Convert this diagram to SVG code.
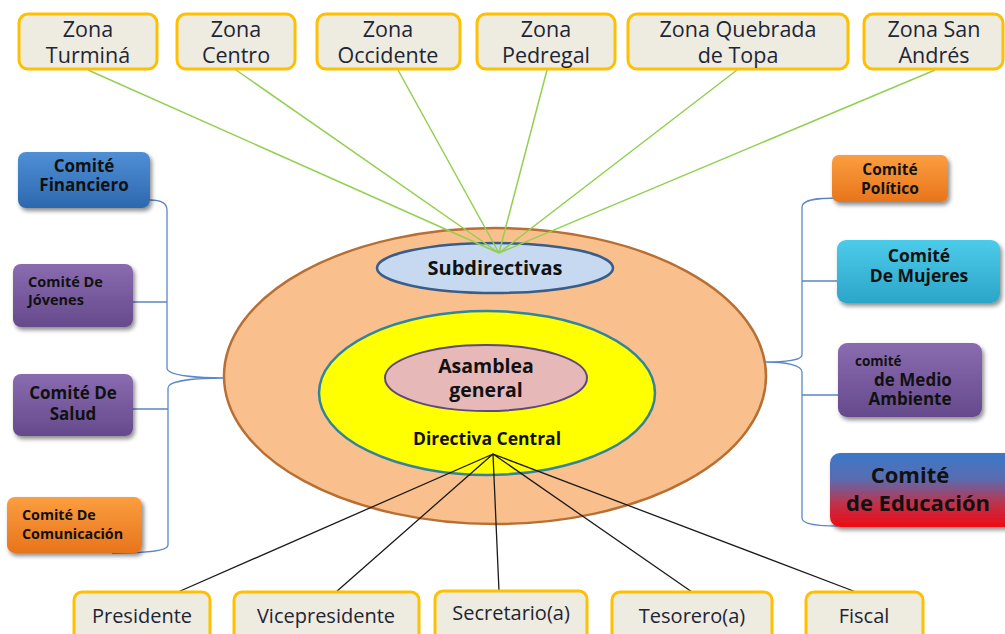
<svg xmlns="http://www.w3.org/2000/svg" width="1005" height="634" viewBox="0 0 1005 634">
<style>
.zone rect{fill:#EEEBE0;stroke:#FFC000;stroke-width:3}
.zone text,.role text{font-family:"Open Sans","Liberation Sans",sans-serif;font-size:21.5px;fill:#1E2535;text-anchor:middle}
.role text{font-size:20px}
.com text{font-family:"Open Sans","Liberation Sans",sans-serif;font-weight:bold;fill:#111;text-anchor:middle}
.com text.l{text-anchor:start}
.green{stroke:#92D050;stroke-width:1.5;fill:none}
.black{stroke:#1a1a1a;stroke-width:1.3;fill:none}
.brace{stroke:#5B87C5;stroke-width:1.3;fill:none}
.lbl{font-family:"Open Sans","Liberation Sans",sans-serif;font-weight:bold;fill:#111;text-anchor:middle}
</style>
<defs>
<filter id="sh" x="-10%" y="-10%" width="130%" height="140%"><feDropShadow dx="2" dy="3" stdDeviation="2" flood-color="#000" flood-opacity="0.45"/></filter>
<linearGradient id="gBlue" x1="0" y1="0" x2="0" y2="1"><stop offset="0" stop-color="#4F8FD6"/><stop offset="1" stop-color="#2D68AE"/></linearGradient>
<linearGradient id="gPurple" x1="0" y1="0" x2="0" y2="1"><stop offset="0" stop-color="#8A6BB0"/><stop offset="1" stop-color="#654A8C"/></linearGradient>
<linearGradient id="gOrange" x1="0" y1="0" x2="0" y2="1"><stop offset="0" stop-color="#FB9E3F"/><stop offset="1" stop-color="#E8741C"/></linearGradient>
<linearGradient id="gCyan" x1="0" y1="0" x2="0" y2="1"><stop offset="0" stop-color="#4CCBEA"/><stop offset="1" stop-color="#2CA5C8"/></linearGradient>
<linearGradient id="gEdu" x1="0" y1="0" x2="0" y2="1"><stop offset="0" stop-color="#3A78C8"/><stop offset="0.35" stop-color="#5A6CB0"/><stop offset="0.7" stop-color="#C23048"/><stop offset="1" stop-color="#EE0A12"/></linearGradient>
</defs>

<g id="outer">
<ellipse cx="495" cy="376" rx="271" ry="148" fill="#F9C08E" stroke="#B86F34" stroke-width="2.5"/>
</g>
<g id="subdirectivas">
<ellipse cx="495" cy="268" rx="118" ry="25" fill="#C6D9F1" stroke="#385D8A" stroke-width="2.5"/>
<text class="lbl" x="495" y="275" font-size="20">Subdirectivas</text>
</g>
<g id="directiva-central">
<ellipse cx="487" cy="393" rx="168" ry="82" fill="#FFFF00" stroke="#31849B" stroke-width="2.5"/>
<text class="lbl" x="487" y="445" font-size="17.5">Directiva Central</text>
</g>
<g id="asamblea">
<ellipse cx="486" cy="378" rx="101" ry="33" fill="#E6B9B8" stroke="#5F497A" stroke-width="2"/>
<text class="lbl" x="486" y="373" font-size="19.5">Asamblea</text>
<text class="lbl" x="486" y="397" font-size="19.5">general</text>
</g>

<g id="connectors">
<path class="green" d="M88,70 L499,253 M236,70 L499,253 M398,70 L499,253 M547,70 L499,253 M737,70 L499,253 M935,70 L499,253"/>
<path class="brace" d="M150,200 C160,200 167,202 167,210 L167,368 C167,376 200,378 224,378 C200,378 168,380 168,388 L168,545 C168,552 140,553 112,553 M133,302 L167,302 M133,409 L168,409"/>
<path class="brace" d="M838,198 C820,198 802,199 802,207 L802,355 C802,360 785,362 765,362 C785,362 802,365 802,372 L802,518 C802,525 820,526 838,526 M802,281 L838,281 M802,395 L838,395"/>
<path class="black" d="M493,454 L178,592 M493,454 L336,592 M493,454 L499,591 M493,454 L692,592 M493,454 L856,592"/>
</g>

<g id="zona-turmina" class="zone"><rect x="19" y="14" width="138" height="55" rx="9"/><text x="88" y="37">Zona</text><text x="88" y="63">Turminá</text></g>
<g id="zona-centro" class="zone"><rect x="177" y="14" width="118" height="55" rx="9"/><text x="236" y="37">Zona</text><text x="236" y="63">Centro</text></g>
<g id="zona-occidente" class="zone"><rect x="317" y="14" width="143" height="55" rx="9"/><text x="388" y="37">Zona</text><text x="388" y="63">Occidente</text></g>
<g id="zona-pedregal" class="zone"><rect x="477" y="14" width="138" height="55" rx="9"/><text x="546" y="37">Zona</text><text x="546" y="63">Pedregal</text></g>
<g id="zona-quebrada" class="zone"><rect x="628" y="14" width="220" height="55" rx="9"/><text x="738" y="37">Zona Quebrada</text><text x="738" y="63">de Topa</text></g>
<g id="zona-san-andres" class="zone"><rect x="864" y="14" width="139" height="55" rx="9"/><text x="934" y="37">Zona San</text><text x="934" y="63">Andrés</text></g>

<g id="comite-financiero" class="com"><rect x="18" y="152" width="132" height="56" rx="8" fill="url(#gBlue)" filter="url(#sh)"/><text x="84" y="172" font-size="17">Comité</text><text x="84" y="191" font-size="17">Financiero</text></g>
<g id="comite-jovenes" class="com"><rect x="13" y="264" width="120" height="63" rx="8" fill="url(#gPurple)" filter="url(#sh)"/><text class="l" x="28" y="287" font-size="14.5">Comité De</text><text class="l" x="28" y="305" font-size="14.5">Jóvenes</text></g>
<g id="comite-salud" class="com"><rect x="13" y="374" width="120" height="62" rx="8" fill="url(#gPurple)" filter="url(#sh)"/><text x="73" y="399" font-size="17">Comité De</text><text x="73" y="420" font-size="17">Salud</text></g>
<g id="comite-comunicacion" class="com"><rect x="7" y="497" width="135" height="56" rx="8" fill="url(#gOrange)" filter="url(#sh)"/><text class="l" x="22" y="520" font-size="14.3">Comité De</text><text class="l" x="22" y="539" font-size="14.3">Comunicación</text></g>

<g id="comite-politico" class="com"><rect x="832" y="155" width="116" height="47" rx="7" fill="url(#gOrange)" filter="url(#sh)"/><text x="890" y="175" font-size="15.5">Comité</text><text x="890" y="194" font-size="15.5">Político</text></g>
<g id="comite-mujeres" class="com"><rect x="837" y="240" width="163" height="63" rx="9" fill="url(#gCyan)" filter="url(#sh)"/><text x="919" y="262" font-size="17.5">Comité</text><text x="919" y="282" font-size="17.5">De Mujeres</text></g>
<g id="comite-medio-ambiente" class="com"><rect x="838" y="343" width="144" height="74" rx="9" fill="url(#gPurple)" filter="url(#sh)"/><text class="l" x="855" y="366" font-size="13.5">comité</text><text x="913" y="386" font-size="17">de Medio</text><text x="910" y="405" font-size="17">Ambiente</text></g>
<g id="comite-educacion" class="com"><rect x="830" y="453" width="190" height="74" rx="10" fill="url(#gEdu)" filter="url(#sh)"/><text x="910" y="483" font-size="22">Comité</text><text x="918" y="511" font-size="22">de Educación</text></g>

<g id="presidente" class="role"><rect x="74" y="592" width="136" height="55" rx="8" fill="#EEEBE0" stroke="#FFC000" stroke-width="3"/><text x="142" y="623">Presidente</text></g>
<g id="vicepresidente" class="role"><rect x="234" y="592" width="185" height="55" rx="8" fill="#EEEBE0" stroke="#FFC000" stroke-width="3"/><text x="326" y="623">Vicepresidente</text></g>
<g id="secretario" class="role"><rect x="435" y="591" width="152" height="55" rx="8" fill="#EEEBE0" stroke="#FFC000" stroke-width="3"/><text x="511" y="620">Secretario(a)</text></g>
<g id="tesorero" class="role"><rect x="612" y="592" width="160" height="55" rx="8" fill="#EEEBE0" stroke="#FFC000" stroke-width="3"/><text x="692" y="623">Tesorero(a)</text></g>
<g id="fiscal" class="role"><rect x="806" y="592" width="117" height="55" rx="8" fill="#EEEBE0" stroke="#FFC000" stroke-width="3"/><text x="864" y="623">Fiscal</text></g>
</svg>
